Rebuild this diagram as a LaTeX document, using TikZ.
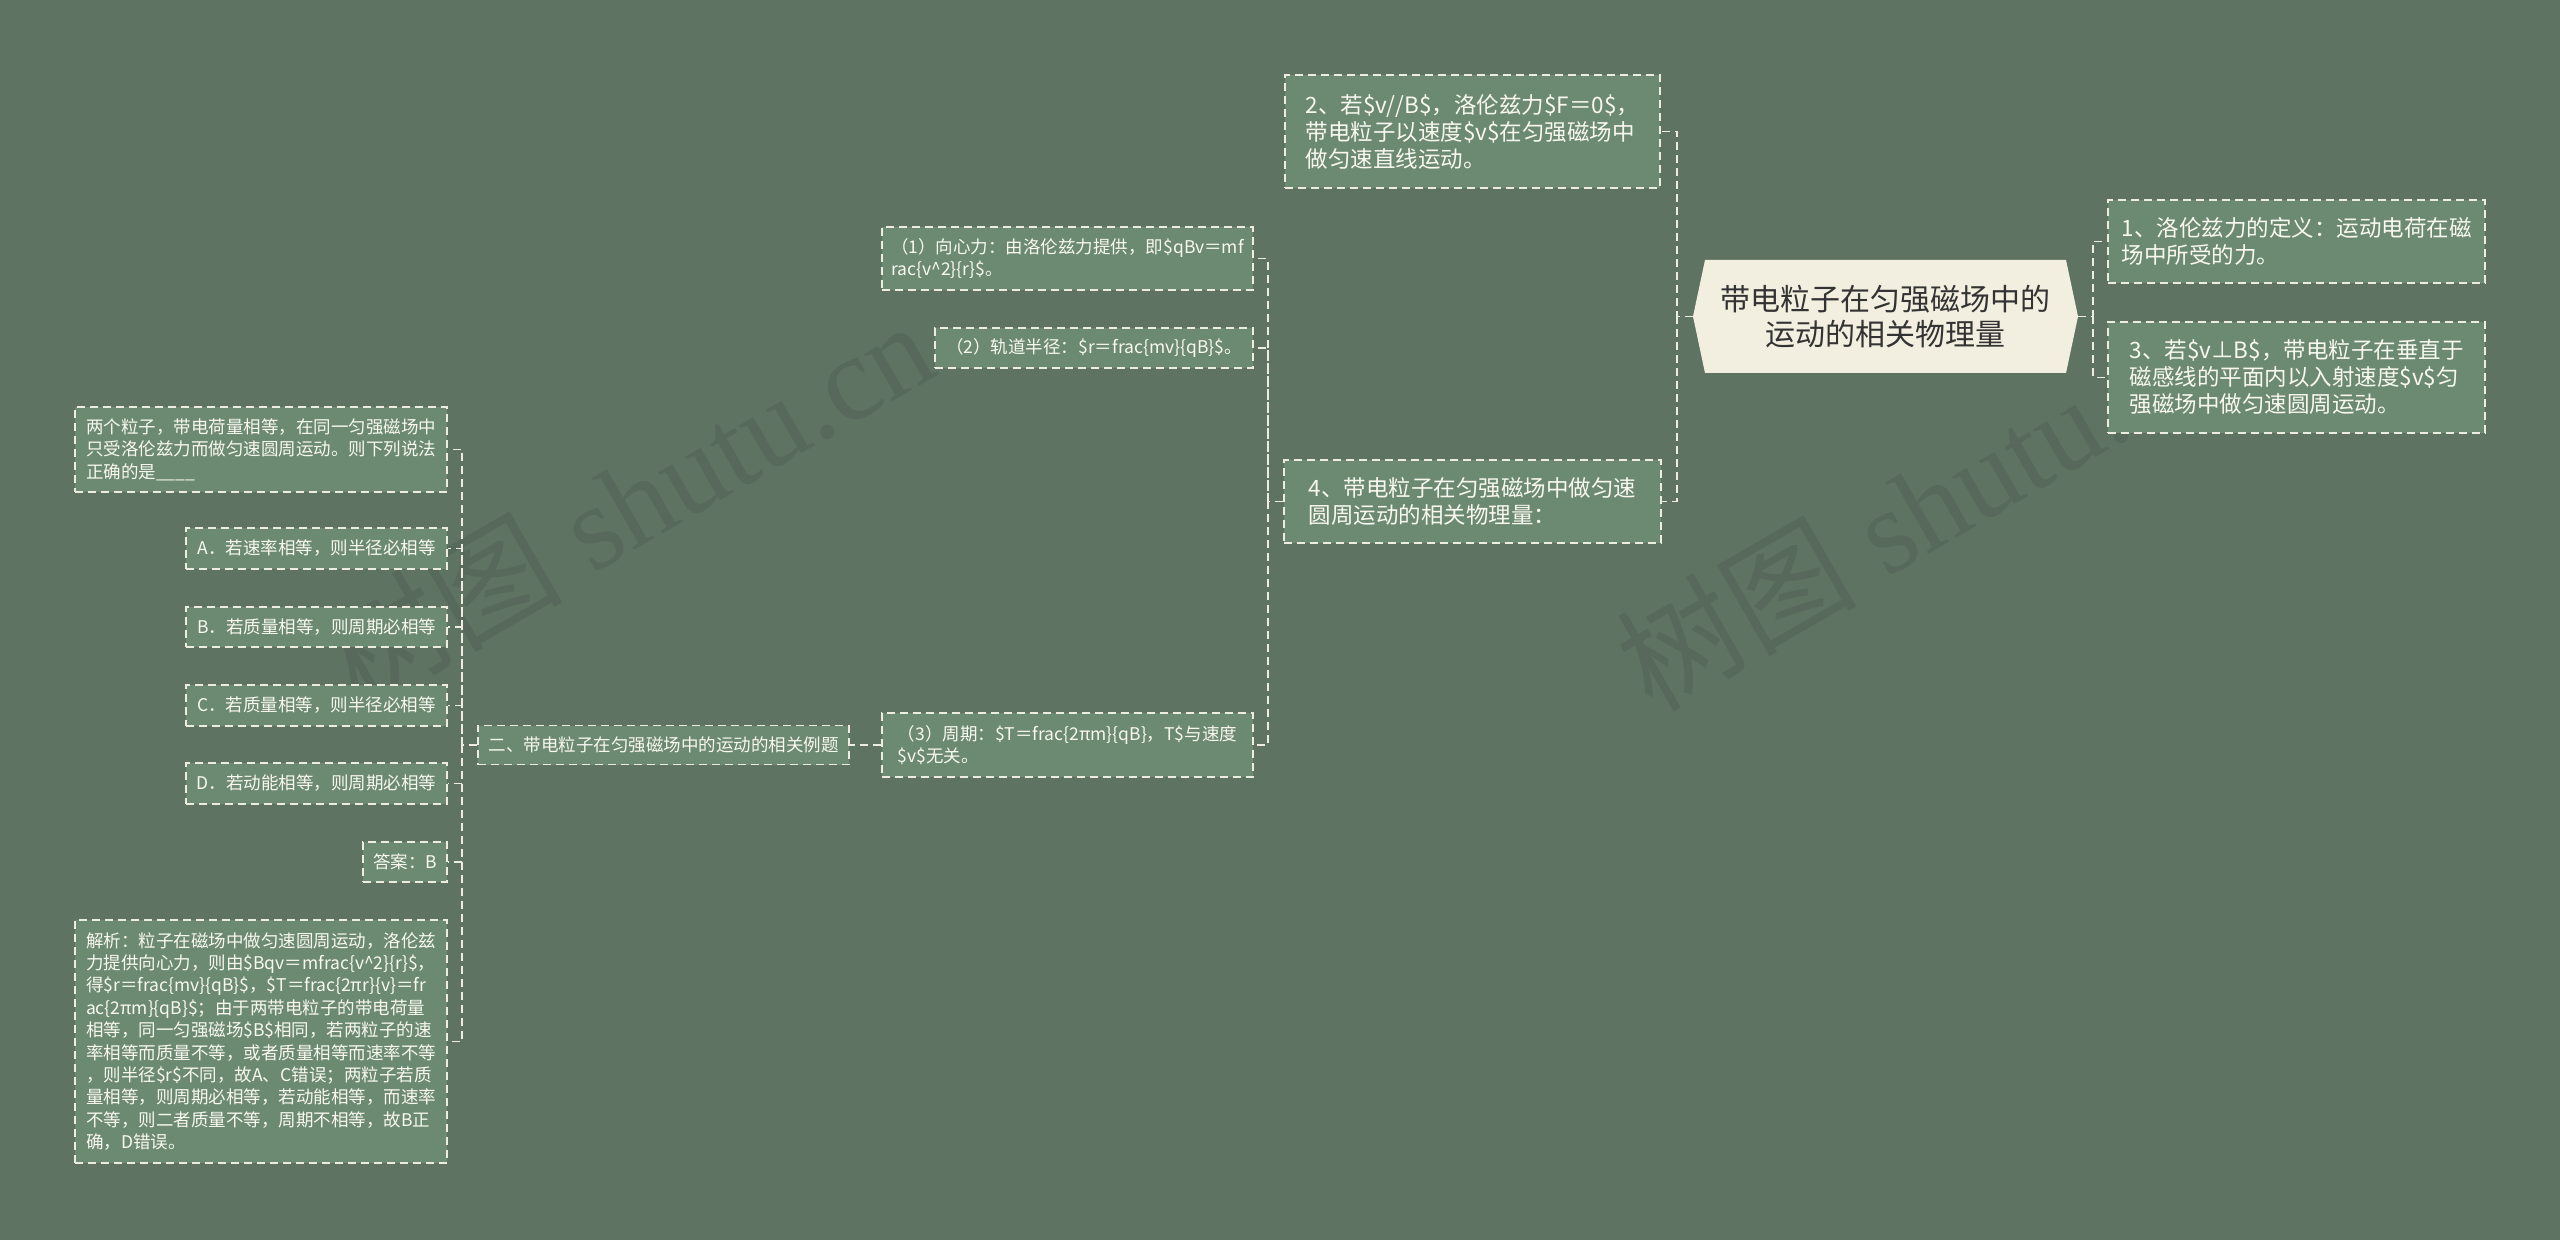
\documentclass[tikz,border=0pt]{standalone}
\usepackage{fontspec}
\setmainfont{Noto Sans CJK SC}
\newfontfamily\wmserif{Liberation Serif}
\newfontfamily\wmcjk{Noto Sans CJK SC}
\usetikzlibrary{calc}
\definecolor{bgc}{RGB}{95,115,99}
\definecolor{boxc}{RGB}{108,138,114}
\definecolor{linec}{RGB}{236,236,224}
\definecolor{rootc}{RGB}{243,239,224}
\definecolor{roottext}{RGB}{51,51,51}
\definecolor{txtc}{RGB}{248,248,240}
\definecolor{wmc}{RGB}{86,105,90}
\begin{document}
\begin{tikzpicture}[x=0.5pt,y=-0.5pt,
  conn/.style={draw=linec, line width=0.85pt, dash pattern=on 4pt off 2.5pt},
  nbox/.style={draw=linec, fill=boxc, line width=0.85pt, dash pattern=on 4pt off 2.5pt, text=txtc, align=left, inner sep=0pt},
  lbox/.style={nbox, font=\fontsize{11.25pt}{13.5pt}\selectfont},
  sbox/.style={nbox, font=\fontsize{8.75pt}{11.2pt}\selectfont},
  wmark/.style={text=wmc, anchor=base west, rotate=30, inner sep=0pt, font=\fontsize{60pt}{60pt}\selectfont}]
\fill[bgc] (0,0) rectangle (2560,1240);
\useasboundingbox (0,0) rectangle (2560,1240);
% watermarks
\node[wmark] (wm1) at (358,710) {\wmcjk 树图\wmserif{} shutu.cn};
\node[wmark] (wm2) at (1652,714) {\wmcjk 树图\wmserif{} shutu.cn};
% root
\fill[rootc] (1693,316.5) -- (1705,260) -- (2066,260) -- (2078,316.5) -- (2066,373) -- (1705,373) -- cycle;
\node[inner sep=0pt, minimum width=192.5pt, minimum height=56.5pt, align=center, text=roottext, font=\fontsize{15pt}{17.5pt}\selectfont] (root) at (1885.5,316.5) {带电粒子在匀强磁场中的\\运动的相关物理量};
% right side
\node[lbox, minimum width=188.5pt, minimum height=41.5pt] (n1) at (2296.5,241.5) {1、洛伦兹力的定义：运动电荷在磁\\场中所受的力。};
\node[lbox, minimum width=188.5pt, minimum height=55.5pt] (n3) at (2296.5,377.5) {3、若\$v⊥B\$，带电粒子在垂直于\\磁感线的平面内以入射速度\$v\$匀\\强磁场中做匀速圆周运动。};
% left side level 1
\node[lbox, minimum width=187.5pt, minimum height=56.5pt] (n2) at (1472.5,131.5) {2、若\$v//B\$，洛伦兹力\$F＝0\$，\\带电粒子以速度\$v\$在匀强磁场中\\做匀速直线运动。};
\node[lbox, minimum width=188.5pt, minimum height=41.5pt] (n4) at (1472.5,501.5) {4、带电粒子在匀强磁场中做匀速\\圆周运动的相关物理量：};
% level 2
\node[sbox, minimum width=185.5pt, minimum height=31.5pt] (p1) at (1067.5,258.5) {（1）向心力：由洛伦兹力提供，即\$qBv＝mf\\rac\{v\textasciicircum{}2\}\{r\}\$。};
\node[sbox, minimum width=159pt, minimum height=20pt] (p2) at (1094,348) {（2）轨道半径：\$r＝frac\{mv\}\{qB\}\$。};
\node[sbox, minimum width=185.5pt, minimum height=32pt] (p3) at (1067.5,745) {（3）周期：\$T＝frac\{2πm\}\{qB\}，T\$与速度\\\$v\$无关。};
% level 3
\node[sbox, minimum width=185.5pt, minimum height=19.5pt] (q) at (663.5,745) {二、带电粒子在匀强磁场中的运动的相关例题};
% level 4
\node[sbox, minimum width=186pt, minimum height=42.5pt] (ques) at (261,449.5) {两个粒子，带电荷量相等，在同一匀强磁场中\\只受洛伦兹力而做匀速圆周运动。则下列说法\\正确的是\_\_\_\_};
\node[sbox, minimum width=130.5pt, minimum height=20.5pt] (oa) at (316.5,548.5) {A．若速率相等，则半径必相等};
\node[sbox, minimum width=130.5pt, minimum height=20pt] (ob) at (316.5,627) {B．若质量相等，则周期必相等};
\node[sbox, minimum width=130.5pt, minimum height=20.5pt] (oc) at (316.5,705.5) {C．若质量相等，则半径必相等};
\node[sbox, minimum width=130.5pt, minimum height=20.5pt] (od) at (316.5,783.5) {D．若动能相等，则周期必相等};
\node[sbox, minimum width=42pt, minimum height=20pt] (ans) at (405,862) {答案：B};
\node[sbox, minimum width=186pt, minimum height=121.5pt] (jx) at (261,1041.5) {解析：粒子在磁场中做匀速圆周运动，洛伦兹\\力提供向心力，则由\$Bqv＝mfrac\{v\textasciicircum{}2\}\{r\}\$，\\得\$r＝frac\{mv\}\{qB\}\$，\$T＝frac\{2πr\}\{v\}＝fr\\ac\{2πm\}\{qB\}\$；由于两带电粒子的带电荷量\\相等，同一匀强磁场\$B\$相同，若两粒子的速\\率相等而质量不等，或者质量相等而速率不等\\，则半径\$r\$不同，故A、C错误；两粒子若质\\量相等，则周期必相等，若动能相等，而速率\\不等，则二者质量不等，周期不相等，故B正\\确，D错误。};
% connectors
\coordinate (jr) at (2093,316.5);
\draw[conn] (root.east) -- (jr) |- (n1.west);
\draw[conn] (jr) |- (n3.west);
\coordinate (jl) at (1677,316.5);
\draw[conn] (root.west) -- (jl) |- (n2.east);
\draw[conn] (jl) |- (n4.east);
\coordinate (j4) at (1268,501.5);
\draw[conn] (n4.west) -- (j4) |- (p1.east);
\draw[conn] (j4) |- (p2.east);
\draw[conn] (j4) |- (p3.east);
\draw[conn] (p3.west) -- (q.east);
\coordinate (jq) at (462,745);
\draw[conn] (q.west) -- (jq) |- (ques.east);
\draw[conn] (jq) |- (oa.east);
\draw[conn] (jq) |- (ob.east);
\draw[conn] (jq) |- (oc.east);
\draw[conn] (jq) |- (od.east);
\draw[conn] (jq) |- (ans.east);
\draw[conn] (jq) |- (jx.east);
\end{tikzpicture}
\end{document}
